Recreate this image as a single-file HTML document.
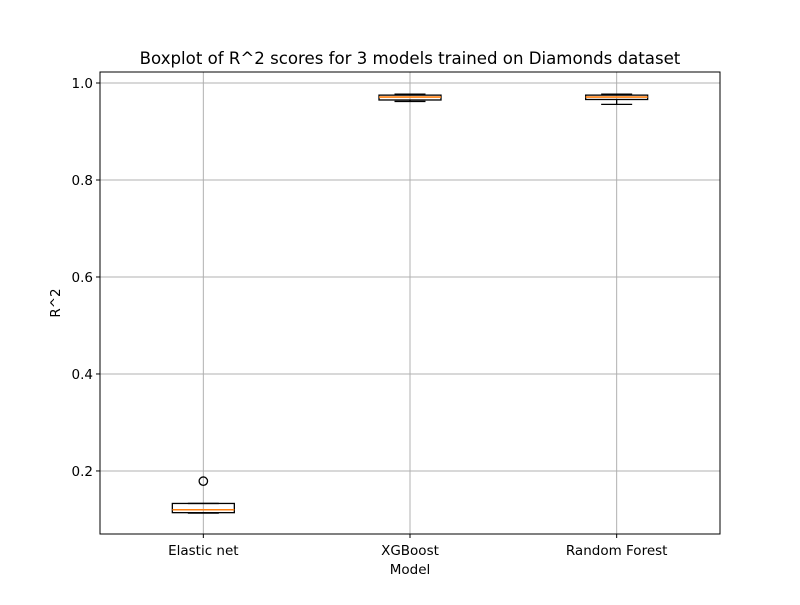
<!DOCTYPE html>
<html><head><meta charset="utf-8"><style>
body{margin:0;background:#fff;font-family:"Liberation Sans","DejaVu Sans",sans-serif;}
text{font-family:"DejaVu Sans","Liberation Sans",sans-serif;}
</style></head><body>
<svg id="chart" width="800" height="600">
<rect width="800" height="600" fill="#fff"/>
<text x="410" y="64" font-size="16.6" text-anchor="middle">Boxplot of R^2 scores for 3 models trained on Diamonds dataset</text>
<g id="grid"></g>
<g id="boxes"></g>
<rect x="100" y="72" width="620" height="462" fill="none" stroke="#000" stroke-width="1"/>
<g id="axes"></g>
<text x="410" y="574" font-size="13.5" text-anchor="middle">Model</text>
<text x="0" y="0" font-size="13.5" text-anchor="middle" transform="translate(60,303) rotate(-90)">R^2</text>
</svg>
<script>
const categories=["Elastic net","XGBoost","Random Forest"];
const whiskerLow=[0.113,0.962,0.956];
const q1=[0.114,0.965,0.966];
const medians=[0.120,0.971,0.971];
const q3=[0.133,0.975,0.975];
const whiskerHigh=[0.133,0.977,0.977];
const fliers=[[0.179],[],[]];
const yTicks=[0.2,0.4,0.6,0.8,1.0];
const yTickLabels=["0.2","0.4","0.6","0.8","1.0"];

const L=100,R=720,T=72,B=534,yMin=0.070,yMax=1.0227;
const ns="http://www.w3.org/2000/svg";
function y(v){return B-(v-yMin)/(yMax-yMin)*(B-T);}
function x(i){return L+(i+0.5)*(R-L)/categories.length;}
function mk(tag,attrs,parent){const e=document.createElementNS(ns,tag);for(const k in attrs)e.setAttribute(k,attrs[k]);parent.appendChild(e);return e;}
const grid=document.getElementById('grid'),boxes=document.getElementById('boxes'),axes=document.getElementById('axes');
yTicks.forEach((t,i)=>{
  const g=mk('line',{x1:L,x2:R,y1:y(t),y2:y(t),stroke:'#b0b0b0','stroke-width':1},grid);
  
  
  const tk=mk('line',{x1:L-4,x2:L,y1:y(t),y2:y(t),stroke:'#000'},axes);
  
  
  const lb=mk('text',{x:L-7,y:y(t)+5,'font-size':13.5,'text-anchor':'end'},axes);
  lb.textContent=yTickLabels[i];
  
  
});
const bw=(R-L)/categories.length*0.3;
categories.forEach((c,i)=>{
  const cx=x(i);
  const g=mk('line',{x1:cx,x2:cx,y1:T,y2:B,stroke:'#b0b0b0','stroke-width':1},grid);
  
  
  const tk=mk('line',{x1:cx,x2:cx,y1:B,y2:B+4,stroke:'#000'},axes);
  
  
  const lb=mk('text',{x:cx,y:B+21,'font-size':13.5,'text-anchor':'middle'},axes);
  lb.textContent=c;
  
  
  const grp=mk('g',{},boxes);
  
  
  mk('line',{x1:cx,x2:cx,y1:y(whiskerLow[i]),y2:y(q1[i]),stroke:'#000','stroke-width':1.3},grp);
  mk('line',{x1:cx,x2:cx,y1:y(q3[i]),y2:y(whiskerHigh[i]),stroke:'#000','stroke-width':1.3},grp);
  mk('line',{x1:cx-bw/4,x2:cx+bw/4,y1:y(whiskerLow[i]),y2:y(whiskerLow[i]),stroke:'#000','stroke-width':1.3},grp);
  mk('line',{x1:cx-bw/4,x2:cx+bw/4,y1:y(whiskerHigh[i]),y2:y(whiskerHigh[i]),stroke:'#000','stroke-width':1.3},grp);
  mk('rect',{x:cx-bw/2,y:y(q3[i]),width:bw,height:Math.max(1,y(q1[i])-y(q3[i])),fill:'none',stroke:'#000','stroke-width':1.3},grp);
  mk('line',{x1:cx-bw/2,x2:cx+bw/2,y1:y(medians[i]),y2:y(medians[i]),stroke:'#ff7f0e','stroke-width':1.6},grp);
  fliers[i].forEach(f=>{
    const c2=mk('circle',{cx:cx,cy:y(f),r:4.2,fill:'none',stroke:'#000','stroke-width':1.3},grp);
    
    
  });
});
</script>
</body></html>
